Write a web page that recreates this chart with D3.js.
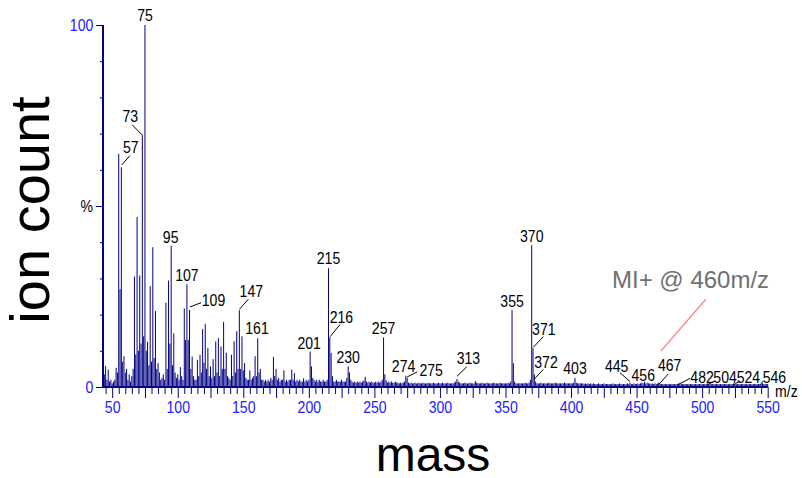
<!DOCTYPE html>
<html>
<head>
<meta charset="utf-8">
<script src="https://cdn.jsdelivr.net/npm/d3@7"></script>
<style>
  body { margin: 0; background: #fff; }
  text { font-family: Arial, "Liberation Sans", sans-serif; }
</style>
</head>
<body>
<div id="chart"></div>
<script>
// relative intensity (%) for each nominal mass, starting at m/z 43
const firstMass = 43;
const intensities = [
  2.5, 3.5, 5.8, 2, 4.8, 1.5, 2,                    // 43-49
  1, 1.5, 2, 5.3, 4, 64.4, 27, 60.7, 7, 8.5,        // 50-59
  4, 5, 2, 3.5, 1.5, 3, 5, 30.5, 9, 47,             // 60-69
  10, 30.8, 12, 69.6, 14, 100, 10, 12.5, 6, 27.9,   // 70-79
  7, 38.6, 8, 21, 5, 6.6, 4, 2, 2.5, 3.5,           // 80-89
  2, 23.3, 5, 29.4, 12, 39, 6, 14.8, 4, 2.5,        // 90-99
  3.5, 2, 5.5, 3, 2, 21.7, 13, 28.4, 13, 21.3,      // 100-109
  5, 8.4, 3, 2, 2, 7.5, 3, 8.9, 4, 16,              // 110-119
  6.7, 17.4, 5, 10.8, 3, 5.7, 2.5, 7.7, 3, 12.6,    // 120-129
  4, 13.5, 3, 11.2, 5, 18, 5, 9.5, 3, 2.5,          // 130-139
  2, 8.9, 3, 12.6, 4, 15.4, 5, 21.2, 5, 14,         // 140-149
  4.6, 6.6, 2.5, 2, 2, 4.6, 2, 2.5, 3, 8.5,         // 150-159
  3, 13.5, 4, 5, 2, 2, 1.5, 2, 1.5, 2,              // 160-169
  1.5, 2.5, 2, 8.3, 3, 5, 2, 2.5, 1.5, 2,           // 170-179
  2, 4.6, 1.5, 2, 1.5, 2, 2, 4.8, 2, 3.8,           // 180-189
  1.5, 2, 1.5, 2, 1.5, 1.5, 2.4, 1.5, 2, 1.5,       // 190-199
  2, 9.8, 5.7, 2.5, 2, 1.5, 2, 1.5, 2, 1.5,         // 200-209
  1.5, 2, 1.5, 1.5, 2, 32.8, 13.7, 9.4, 3, 1.5,     // 210-219
  1.5, 2, 1.5, 1.5, 1.5, 2, 1.5, 1.5, 1.5, 2.5,     // 220-229
  5.7, 4, 2, 1.5, 1.2, 1.5, 1.2, 1.5, 1.2, 1.5,     // 230-239
  1.2, 1.5, 1.8, 2.8, 1.5, 1.2, 1.5, 1.2, 1.5, 1.2, // 240-249
  1.2, 1.5, 1.2, 1.5, 1.2, 1.5, 2, 13.7, 3.5, 1.8,  // 250-259
  1.2, 1.5, 1.2, 1.5, 1.2, 1.2, 1.5, 1.2, 1.2, 1,   // 260-269
  1.2, 1, 1.2, 1.5, 3.1, 2.5, 1.2, 1, 1.2, 1,       // 270-279
  1, 1.2, 1, 1, 1.2, 1, 1, 1.2, 1, 1,               // 280-289
  1, 1.2, 1, 1, 1, 1.2, 1, 1, 1, 1.2,               // 290-299
  1, 1, 1.2, 1, 1, 1, 1.2, 1, 1, 1,                 // 300-309
  1, 1.2, 1.5, 2.2, 1.5, 1.2, 1, 1, 1, 1.2,         // 310-319
  1, 1, 1, 1.2, 1, 1, 1, 1.6, 1.2, 1,               // 320-329
  1, 1, 1.2, 1, 1, 1, 1.2, 1, 1, 1,                 // 330-339
  1, 1.2, 1, 1, 1, 1, 1.2, 1, 1, 1,                 // 340-349
  1, 1, 1.2, 1, 1.5, 21.3, 6.6, 1.5, 1, 1,          // 350-359
  1, 1, 1, 1, 1, 1.2, 1, 1, 1.2, 2,                 // 360-369
  39.2, 10.7, 3.5, 1.5, 1, 1, 1, 1.2, 1, 1,         // 370-379
  1, 1, 1, 1.2, 1, 1, 1, 1, 1.2, 1,                 // 380-389
  1, 1, 1, 1, 1, 1.2, 1, 1, 1, 1,                   // 390-399
  1, 1, 1.2, 2.5, 1.2, 1, 1, 1, 1, 1,               // 400-409
  0.8, 1, 0.8, 1, 0.8, 1, 0.8, 1, 0.8, 0.8,         // 410-419
  0.8, 1, 0.8, 0.8, 0.8, 1, 0.8, 0.8, 0.8, 0.8,     // 420-429
  0.8, 0.8, 1, 0.8, 0.8, 0.8, 0.8, 1, 0.8, 0.8,     // 430-439
  0.8, 0.8, 0.8, 1, 0.8, 1.2, 0.8, 0.8, 1, 0.8,     // 440-449
  0.8, 1, 0.8, 1, 1.2, 1, 1.5, 1, 1.2, 1,           // 450-459
  1, 0.8, 1, 0.8, 1, 0.8, 1, 1.2, 0.8, 0.8,         // 460-469
  0.8, 0.8, 0.8, 0.8, 0.8, 0.8, 0.8, 0.8, 0.8, 0.8, // 470-479
  0.8, 0.8, 1, 0.8, 0.8, 0.8, 0.8, 0.8, 0.8, 0.8,   // 480-489
  0.8, 0.8, 0.8, 0.8, 0.8, 0.8, 0.8, 0.8, 0.8, 0.8, // 490-499
  0.8, 0.8, 0.8, 0.8, 1, 0.8, 0.8, 0.8, 0.8, 0.8,   // 500-509
  0.8, 0.8, 0.8, 0.8, 0.8, 0.8, 0.8, 0.8, 0.8, 0.8, // 510-519
  0.8, 0.8, 0.8, 0.8, 1, 0.8, 0.8, 0.8, 0.8, 0.8,   // 520-529
  0.8, 0.8, 0.8, 0.8, 0.8, 0.8, 0.8, 0.8, 0.8, 0.8, // 530-539
  0.8, 0.8, 0.8, 0.8, 0.8, 0.8, 1, 0.8, 0.8, 0.8,   // 540-549
  0.8                                               // 550
];

// peaks that carry a mass label
const labelledMasses = [75, 73, 57, 95, 107, 109, 147, 161, 201, 215, 216, 230,
  257, 274, 275, 313, 355, 370, 371, 372, 403, 445, 456, 467, 482, 504, 524, 546];

const xTickLabels = [50, 100, 150, 200, 250, 300, 350, 400, 450, 500, 550];
const yTickLabels = [0, 100];

const spectrum = intensities.map((v, i) => ({ mass: firstMass + i, value: v }));
const byMass = new Map(spectrum.map(d => [d.mass, d.value]));

// label placement relative to the peak top: text offset and optional leader line
const labelLayout = {
  75: { dx: 0, dy: -4.3 },
  73: { dx: -12, dy: -13, lead: [-10, -10, 0, 0] },
  57: { dx: 9.5, dy: -14, lead: [8.5, -11.5, 0.3, -2.3] },
  95: { dx: -0.5, dy: -3.3 },
  107: { dx: 0, dy: -3.5 },
  109: { dx: 24, dy: -4, lead: [11.5, -7.2, 0.5, -3] },
  147: { dx: 12, dy: -13.6, lead: [9, -11, 0, -1] },
  161: { dx: -0.7, dy: -3.8 },
  201: { dx: -1, dy: -3 },
  215: { dx: 0, dy: -4 },
  216: { dx: 11.6, dy: -14, lead: [10.3, -13, 0.3, -0.7] },
  230: { dx: 0, dy: -3 },
  257: { dx: 0, dy: -3 },
  274: { dx: -2.3, dy: -3.8 },
  275: { dx: 24, dy: -2, lead: [10, -6, 0, -1] },
  313: { dx: 11.4, dy: -14.7, lead: [9.8, -12.3, 0, -2.7] },
  355: { dx: 0, dy: -3.3 },
  370: { dx: 0, dy: -3.3 },
  371: { dx: 10.8, dy: -13.3, lead: [10.3, -11.6, 0.3, -1] },
  372: { dx: 11.7, dy: -6.6, lead: [9, -5, -0.3, 5] },
  403: { dx: 0, dy: -3.7 },
  445: { dx: -13.4, dy: -11, lead: [-10.1, -10, 0, -1] },
  456: { dx: -1.2, dy: -1 },
  467: { dx: 10.8, dy: -11.7, lead: [9.4, -8.7, -0.6, 2.3] },
  482: { dx: 23.5, dy: 0, lead: [11.5, -5, -1.2, 1.6] },
  504: { dx: 17.7, dy: 0, lead: [7.7, -2.4, -0.6, 1.6] },
  524: { dx: 14.8, dy: 0, lead: [6.5, -2.4, -0.2, 1.6] },
  546: { dx: 12, dy: 0, lead: [0.9, -2.4, -2.4, 1.6] }
};

const width = 802;
const height = 478;
const navy = "#000080";
const squeeze = "scale(0.88,1)"; // the plot's text is narrow in the original screenshot

const svg = d3.select("#chart").append("svg")
  .attr("width", width)
  .attr("height", height);

const x = d3.scaleLinear().domain([43, 550]).range([103, 767.7]);
const y = d3.scaleLinear().domain([0, 100]).range([387, 25]);

// spectrum lines
svg.append("g")
  .selectAll("line")
  .data(spectrum)
  .enter().append("line")
  .attr("x1", d => x(d.mass))
  .attr("x2", d => x(d.mass))
  .attr("y1", y(0))
  .attr("y2", d => y(d.value))
  .attr("stroke", navy)
  .attr("stroke-width", 1);

// x axis
const xAxis = svg.append("g")
  .attr("transform", `translate(0,${y(0)})`)
  .call(d3.axisBottom(x)
    .tickValues(d3.range(45, 551, 5))
    .tickSize(7)
    .tickFormat(d => xTickLabels.includes(d) ? d : ""));
xAxis.select(".domain").remove();
xAxis.selectAll(".tick line")
  .attr("stroke", navy)
  .attr("y2", d => d % 25 === 0 ? 11 : 7);
xAxis.selectAll(".tick text")
  .attr("fill", "#2020ff")
  .attr("y", 26).attr("dy", null)
  .style("font-size", "16px")
  .attr("transform", squeeze);

// y axis
const yAxis = svg.append("g")
  .attr("transform", `translate(${x(43)},0)`)
  .call(d3.axisLeft(y)
    .tickValues(d3.range(0, 101, 10))
    .tickSize(3)
    .tickFormat(d => yTickLabels.includes(d) ? d : ""));
yAxis.select(".domain").remove();
yAxis.selectAll(".tick line")
  .attr("stroke", navy)
  .attr("x2", d => d % 50 === 0 ? -7 : -3);
yAxis.selectAll(".tick text")
  .attr("fill", "#2020ff")
  .attr("x", -11).attr("dy", "0.36em")
  .style("font-size", "16px")
  .attr("transform", squeeze);

// axis lines
svg.append("line")
  .attr("x1", x(43)).attr("x2", x(43))
  .attr("y1", y(100)).attr("y2", y(0) + 1)
  .attr("stroke", navy).attr("stroke-width", 2);
svg.append("line")
  .attr("x1", x(43) - 1).attr("x2", x(550))
  .attr("y1", y(0)).attr("y2", y(0))
  .attr("stroke", navy).attr("stroke-width", 2);

svg.append("text")
  .attr("transform", `translate(93,${y(50) + 6}) ${squeeze}`)
  .attr("text-anchor", "end")
  .style("font-size", "16px")
  .text("%");

svg.append("text")
  .attr("transform", `translate(775,397) ${squeeze}`)
  .style("font-size", "16px")
  .text("m/z");

// peak labels and leader lines
const labels = svg.append("g");
labelledMasses.forEach(m => {
  const px = x(m), py = y(byMass.get(m));
  const l = labelLayout[m];
  labels.append("text")
    .attr("transform", `translate(${px + l.dx},${py + l.dy}) ${squeeze}`)
    .attr("text-anchor", "middle")
    .style("font-size", "16px")
    .text(m);
  if (l.lead) {
    labels.append("line")
      .attr("x1", px + l.lead[0]).attr("y1", py + l.lead[1])
      .attr("x2", px + l.lead[2]).attr("y2", py + l.lead[3])
      .attr("stroke", "#000").attr("stroke-width", 1);
  }
});

// molecular ion annotation
svg.append("line")
  .attr("x1", 706).attr("y1", 299)
  .attr("x2", 661).attr("y2", 351)
  .attr("stroke", "#ff8080").attr("stroke-width", 1.2);
svg.append("text")
  .attr("x", 612).attr("y", 288)
  .attr("fill", "#707070")
  .style("font-size", "24px")
  .text("MI+ @ 460m/z");

// axis titles
svg.append("text")
  .attr("transform", "translate(49,210) rotate(-90)")
  .attr("text-anchor", "middle")
  .style("font-size", "56px")
  .text("ion count");
svg.append("text")
  .attr("x", 433).attr("y", 471)
  .attr("text-anchor", "middle")
  .style("font-size", "48px")
  .text("mass");
</script>
</body>
</html>
